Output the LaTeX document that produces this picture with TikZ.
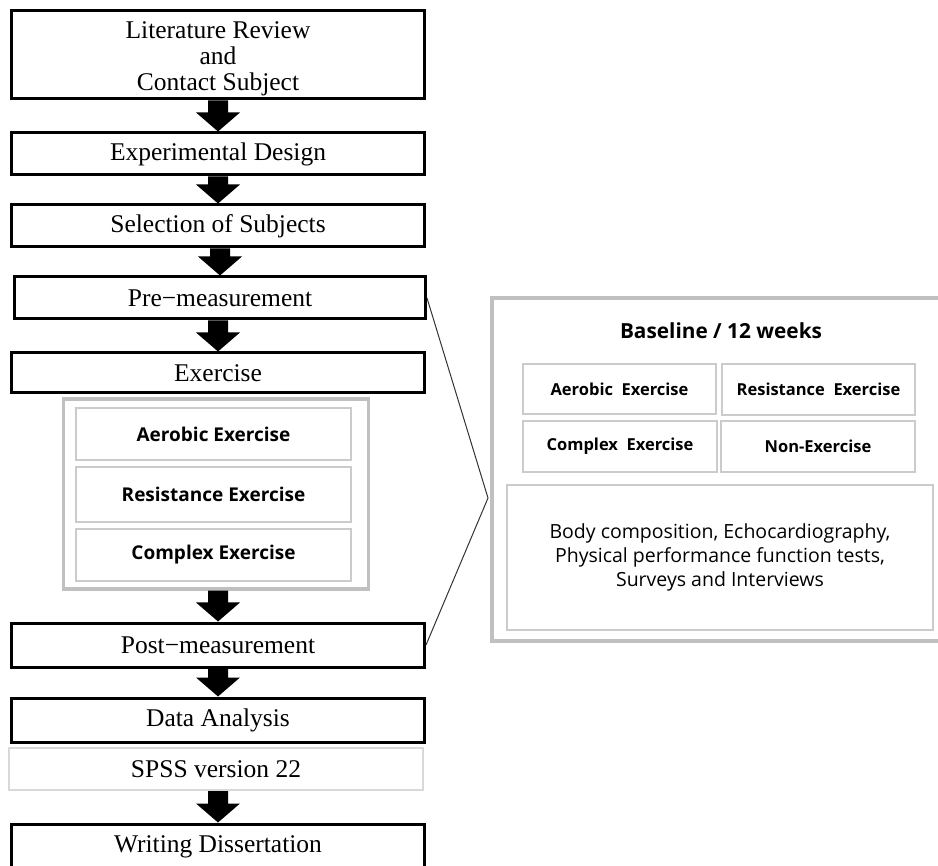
\documentclass[tikz,border=0pt]{standalone}
\usepackage{fontspec}
\setmainfont{Liberation Serif}
\newfontfamily\gothic{Open Sans}
\usetikzlibrary{calc}

\definecolor{framegray}{HTML}{C0C0C0}
\definecolor{cellgray}{HTML}{CBCBCB}
\definecolor{spssgray}{HTML}{D9D9D9}

\tikzset{
  stage/.style={draw, line width=3pt, minimum width=413pt, minimum height=42pt, inner sep=0pt,
    font=\fontsize{25.5}{26}\selectfont},
  frame/.style={draw=framegray, line width=3.5pt, inner sep=0pt},
  cell/.style={draw=cellgray, line width=1.2pt, inner sep=0pt, font=\gothic\bfseries\fontsize{19}{22}\selectfont},
  smallcell/.style={cell, minimum width=193pt, minimum height=50pt, font=\gothic\bfseries\fontsize{16.5}{20}\selectfont}
}

\begin{document}
\begin{tikzpicture}[x=1pt, y=-1pt]

\useasboundingbox (0,0) rectangle (938,866);

\node[stage, minimum height=88pt, align=center] at (218,55) (lit) {\rule{0pt}{25pt}Literature Review\\and\\Contact Subject};
\node[stage] at (218,154) (design) {Experimental Design};
\node[stage] at (218,226) (select) {Selection of Subjects};
\node[stage, minimum width=411pt] at (220,298) (pre) {Pre−measurement};
\node[stage, minimum height=40pt] at (218,373) (exer) {Exercise};

\node[frame, minimum width=305pt, minimum height=190pt] at (216,494) (group) {};
\node[cell, minimum width=275pt, minimum height=52pt] at (213.5,434) (aer) {Aerobic Exercise};
\node[cell, minimum width=275pt, minimum height=55pt] at (213.5,494.5) (res) {Resistance Exercise};
\node[cell, minimum width=275pt, minimum height=52pt] at (213.5,555) (cpx) {Complex Exercise};

\node[stage, minimum height=44pt] at (218,645) (post) {Post−measurement};
\node[stage, minimum height=44pt] at (218,720) (data) {Data Analysis};
\node[draw=spssgray, line width=2pt, minimum width=414pt, minimum height=42pt, inner sep=0pt,
  font=\fontsize{25.5}{26}\selectfont] at (216,769) (spss) {SPSS version 22};
\node[stage, minimum height=58pt, text depth=18pt] at (218,853) (write) {Writing Dissertation};

\foreach \a/\b in {lit/design, design/select, select/pre, pre/exer, group/post, post/data, spss/write}
  \fill ($(\a.south -| \b.north)+(-10pt,0pt)$) -- ($(\b.north)+(-10pt,19pt)$) -- ($(\b.north)+(-22pt,19pt)$)
    -- (\b.north) -- ($(\b.north)+(22pt,19pt)$) -- ($(\b.north)+(10pt,19pt)$)
    -- ($(\a.south -| \b.north)+(10pt,0pt)$) -- cycle;

\node[frame, minimum width=470pt, minimum height=343pt] at (727,469.5) (panel) {};
\node[font=\gothic\bfseries\fontsize{20.8}{24}\selectfont] at (721,331) (title) {Baseline / 12 weeks};
\node[smallcell] at (619.5,389) (raer) {Aerobic\ \ Exercise};
\node[smallcell, minimum height=51pt] at (818.5,389.5) (rres) {Resistance\ \ Exercise};
\node[smallcell, minimum width=194pt, minimum height=51pt] at (620,446.5) (rcpx) {Complex\ \ Exercise};
\node[smallcell, minimum width=194pt, minimum height=51pt] at (818,446.5) (rnon) {Non-Exercise};
\node[cell, minimum width=426pt, minimum height=145pt, align=center, font=\gothic\fontsize{19.5}{24}\selectfont]
  at (720,557.5) (body) {Body composition, Echocardiography,\\Physical performance function tests,\\Surveys and Interviews};

\coordinate (apex) at (488,498);
\draw[line width=1pt, black!80] (pre.east) -- (apex) -- (post.east);

\end{tikzpicture}
\end{document}
